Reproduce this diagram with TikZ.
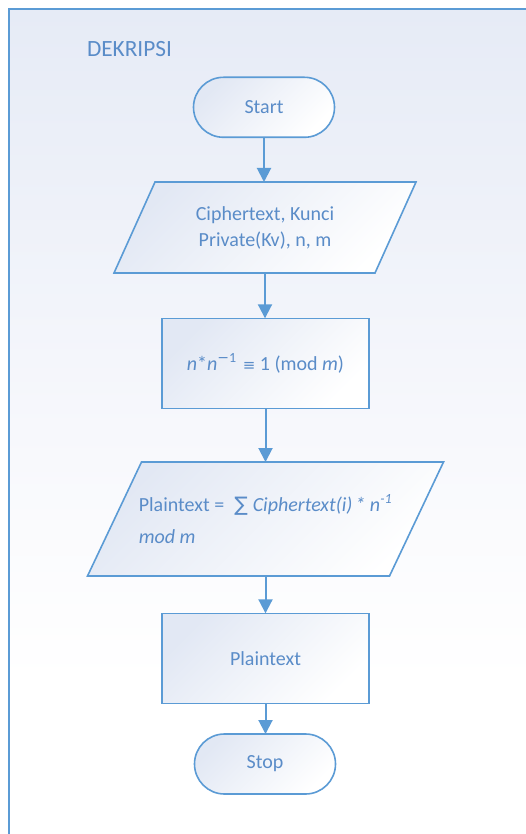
\documentclass[tikz,border=0pt]{standalone}
\usepackage{fontspec}
\setmainfont{Carlito}
\newfontfamily\symf{DejaVu Sans}
\usetikzlibrary{arrows.meta}
\definecolor{ln}{HTML}{5B9BD5}
\definecolor{tx}{HTML}{5A8CC8}
\definecolor{sh}{HTML}{E2E8F4}
\definecolor{bgsh}{HTML}{E6EBF6}
\definecolor{bgmid}{HTML}{F7F8FC}
\pgfdeclareverticalshading{bgshade}{100bp}{color(0bp)=(white); color(35bp)=(white); color(50bp)=(bgmid); color(75bp)=(bgsh); color(100bp)=(bgsh)}
\pgfdeclarelayer{bglayer}
\pgfdeclarelayer{shplayer}
\pgfsetlayers{bglayer,shplayer,main}
\begin{document}
\begin{tikzpicture}[x=1pt,y=-1pt,
  txt/.style={text=tx, font=\fontsize{20}{26}\selectfont, inner sep=0pt, outer sep=0pt},
  shapefill/.style={top color=sh, bottom color=white, shading angle=45},
  box/.style={txt, draw=ln, line width=1.6pt, shapefill},
  term/.style={box, rounded corners=30pt, minimum width=141pt, minimum height=60pt},
  proc/.style={box, minimum width=207pt, minimum height=90pt},
  io/.style={txt, align=center},
  ioshape/.style={draw=ln, line width=1.6pt, shapefill},
  arr/.style={draw=ln, line width=2pt, -{Triangle[width=14pt,length=14pt]}},
  framebox/.style={shade, shading=bgshade, draw=ln, line width=2pt},
]
\useasboundingbox (0,0) rectangle (526,834);
\begin{pgfonlayer}{bglayer}
\path[framebox] (9,9) rectangle (545,850);
\end{pgfonlayer}

\node[txt, font=\fontsize{23.3}{28}\selectfont, anchor=base west] (title) at (87,57) {DEKRIPSI};
\node[term] (start) at (264,107.3) {Start};
\node[io, minimum width=261pt, minimum height=91pt] (p1) at (265,227.5) {Ciphertext, Kunci\\Private(Kv), n, m};
\node[proc] (calc) at (265.5,363.3) {\textit{n}*\textit{n}\textsuperscript{{\symf −}1}\hspace{6pt}{\symf\fontsize{15}{15}\selectfont ≡} 1 (mod \textit{m})};
\node[io, align=left, minimum width=302pt, minimum height=114pt, font=\fontsize{20}{32}\selectfont] (p2) at (265.5,519) {Plaintext =\hspace{10pt}{\symf ∑}\hspace{5pt}\textit{Ciphertext(i)\hspace{3pt}* n}\textsuperscript{\textit{-1}}\\\textit{mod m}};
\node[proc] (out) at (265.5,658.3) {Plaintext};
\node[term] (stop) at (265,764) {Stop};

\begin{pgfonlayer}{shplayer}
\path[ioshape] ([xshift=20.5pt]p1.north west) -- ([xshift=20.5pt]p1.north east) -- ([xshift=-20.5pt]p1.south east) -- ([xshift=-20.5pt]p1.south west) -- cycle;
\path[ioshape] ([xshift=27pt]p2.north west) -- ([xshift=27pt]p2.north east) -- ([xshift=-27pt]p2.south east) -- ([xshift=-27pt]p2.south west) -- cycle;
\end{pgfonlayer}

\draw[arr] (start.south) -- (start.south |- p1.north);
\draw[arr] (p1.south) -- (p1.south |- calc.north);
\draw[arr] (calc.south) -- (calc.south |- p2.north);
\draw[arr] (p2.south) -- (p2.south |- out.north);
\draw[arr] (out.south) -- (out.south |- stop.north);
\end{tikzpicture}
\end{document}
